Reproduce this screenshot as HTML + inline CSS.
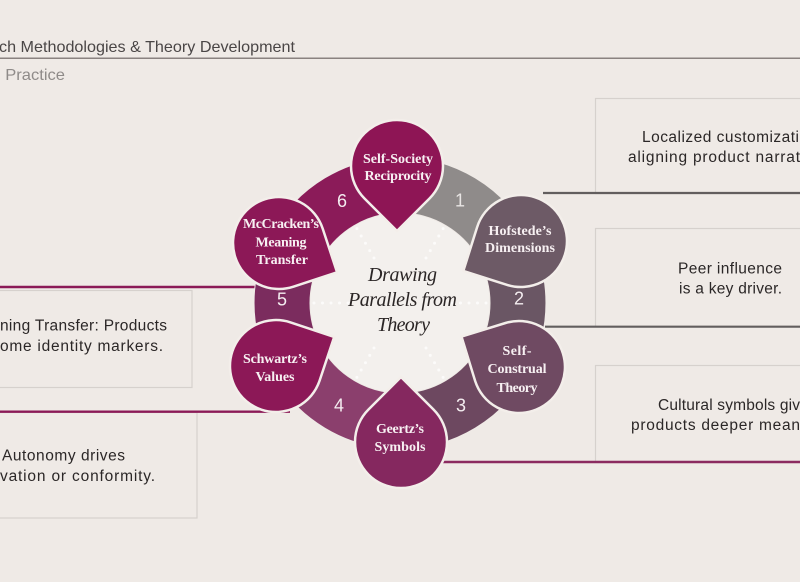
<!DOCTYPE html>
<html><head><meta charset="utf-8"><style>
html,body{margin:0;padding:0;background:#efeae6;}
svg{display:block;}
</style></head><body>
<svg width="800" height="582" viewBox="0 0 800 582" xmlns="http://www.w3.org/2000/svg">
<rect width="800" height="582" fill="#efeae6"/>
<!-- header -->
<text x="-1" y="52" font-family="Liberation Sans, sans-serif" font-size="16" fill="#4a4646" textLength="296" lengthAdjust="spacingAndGlyphs">ch Methodologies &amp; Theory Development</text>
<line x1="0" y1="58.3" x2="800" y2="58.3" stroke="#8a8280" stroke-width="1.5"/>
<text x="-3" y="80" font-family="Liberation Sans, sans-serif" font-size="16" fill="#8f8b89" textLength="68" lengthAdjust="spacingAndGlyphs">l Practice</text>

<!-- boxes -->
<g fill="none" stroke="#d6d1cd" stroke-width="1.2">
<rect x="595.5" y="98.5" width="220" height="95"/>
<rect x="595.5" y="228.5" width="220" height="98"/>
<rect x="595.5" y="365.5" width="220" height="96"/>
<rect x="-10" y="290.5" width="202" height="97"/>
<rect x="-10" y="412.5" width="207" height="105.5"/>
</g>
<!-- connector lines -->
<line x1="543" y1="193" x2="800" y2="193" stroke="#625e5e" stroke-width="2.2"/>
<line x1="545" y1="326.7" x2="800" y2="326.7" stroke="#625e5e" stroke-width="2.2"/>
<line x1="440" y1="462" x2="800" y2="462" stroke="#8b2b60" stroke-width="2.4"/>
<line x1="0" y1="287" x2="275" y2="287" stroke="#8b1a57" stroke-width="2.4"/>
<line x1="0" y1="411.7" x2="290" y2="411.7" stroke="#8b1a57" stroke-width="2.4"/>

<!-- box texts -->
<g font-family="Liberation Sans, sans-serif" font-size="15.5" fill="#2b2727" lengthAdjust="spacingAndGlyphs">
<text x="642" y="142" textLength="157">Localized customizati</text>
<text x="628" y="162" textLength="172">aligning product narrat</text>
<text x="678" y="273.5" textLength="104">Peer influence</text>
<text x="679" y="293.5" textLength="103">is a key driver.</text>
<text x="658" y="410" textLength="142">Cultural symbols giv</text>
<text x="631" y="430" textLength="169">products deeper mean</text>
<text x="0" y="330.5" textLength="167">ning Transfer: Products</text>
<text x="0" y="351" textLength="163">ome identity markers.</text>
<text x="2" y="460.5" textLength="123">Autonomy drives</text>
<text x="0" y="481" textLength="155">vation or conformity.</text>
</g>

<!-- inner disc -->
<circle cx="400" cy="303" r="90" fill="#f3f0ed"/>

<!-- ring segments -->
<g stroke="#efeae6" stroke-width="1">
<path d="M400,157 A146,146 0 0 1 528.9,234.5 L479.5,260.8 A90,90 0 0 0 400,213 Z" fill="#8f8b8a"/>
<path d="M528.9,234.5 A146,146 0 0 1 528.9,371.5 L479.5,345.2 A90,90 0 0 0 479.5,260.8 Z" fill="#6a5664"/>
<path d="M528.9,371.5 A146,146 0 0 1 400,449 L400,393 A90,90 0 0 0 479.5,345.2 Z" fill="#6d4860"/>
<path d="M400,449 A146,146 0 0 1 271.1,371.5 L320.5,345.2 A90,90 0 0 0 400,393 Z" fill="#8b3f6d"/>
<path d="M271.1,371.5 A146,146 0 0 1 271.1,234.5 L320.5,260.8 A90,90 0 0 0 320.5,345.2 Z" fill="#7b2c5e"/>
<path d="M271.1,234.5 A146,146 0 0 1 400,157 L400,213 A90,90 0 0 0 320.5,260.8 Z" fill="#8b1b59"/>
</g>

<!-- dotted rays -->
<g stroke="#ffffff" stroke-width="3" stroke-linecap="round" stroke-dasharray="0 8.5" opacity="0.75">
<line x1="452" y1="303" x2="488" y2="303"/>
<line x1="348" y1="303" x2="312" y2="303"/>
<line x1="426" y1="258" x2="444" y2="227"/>
<line x1="374" y1="258" x2="356" y2="227"/>
<line x1="426" y1="348" x2="444" y2="379"/>
<line x1="374" y1="348" x2="356" y2="379"/>
</g>

<!-- numbers -->
<g font-family="Liberation Sans, sans-serif" font-size="18" fill="#f4edf0" text-anchor="middle">
<text x="460" y="206.5" fill="#e8e5e4">1</text>
<text x="519" y="304.5">2</text>
<text x="461" y="411.5">3</text>
<text x="339" y="411.5">4</text>
<text x="282" y="305.5">5</text>
<text x="342" y="207">6</text>
</g>

<!-- teardrops -->
<g stroke="#f3eeea" stroke-width="2.5" stroke-linejoin="round">
<path d="M397,231 L364.5,198.5 A46,46 0 1 1 429.5,198.5 Z" fill="#8e1555"/>
<path d="M463.3,271 L477.1,227.2 A46,46 0 1 1 507.2,284.9 Z" fill="#6d5a66"/>
<path d="M461.5,336.6 L505.5,323 A46,46 0 1 1 475,380.5 Z" fill="#6f4a62"/>
<path d="M401,377 L433.5,409.5 A46,46 0 1 1 368.5,409.5 Z" fill="#85285f"/>
<path d="M334.2,336.9 L319.6,380.6 A46,46 0 1 1 290.6,322.4 Z" fill="#8c1857"/>
<path d="M337.1,272.3 L293.4,286.7 A46,46 0 1 1 322.7,228.6 Z" fill="#8c1857"/>
</g>

<!-- teardrop labels -->
<g font-family="Liberation Serif, serif" font-weight="bold" font-size="14" fill="#f7f0f2" text-anchor="middle" lengthAdjust="spacingAndGlyphs">
<text x="398" y="163" textLength="70">Self-Society</text>
<text x="398" y="180" textLength="67">Reciprocity</text>
<text x="520" y="235" textLength="63">Hofstede’s</text>
<text x="520" y="252" textLength="70">Dimensions</text>
<text x="281" y="228" textLength="76">McCracken’s</text>
<text x="281" y="246.5" textLength="51">Meaning</text>
<text x="282" y="264" textLength="52">Transfer</text>
<text x="517" y="355" textLength="29">Self-</text>
<text x="517" y="373" textLength="59">Construal</text>
<text x="517" y="392" textLength="41">Theory</text>
<text x="400" y="433" textLength="48">Geertz’s</text>
<text x="400" y="451" textLength="51">Symbols</text>
<text x="275" y="363" textLength="64">Schwartz’s</text>
<text x="275" y="381" textLength="39">Values</text>
</g>

<!-- center text -->
<g font-family="Liberation Serif, serif" font-style="italic" font-size="20" fill="#2b2626" text-anchor="middle" lengthAdjust="spacingAndGlyphs">
<text x="402.5" y="281" textLength="69">Drawing</text>
<text x="402.5" y="306" textLength="109">Parallels from</text>
<text x="403.5" y="331" textLength="53">Theory</text>
</g>
</svg>
</body></html>
